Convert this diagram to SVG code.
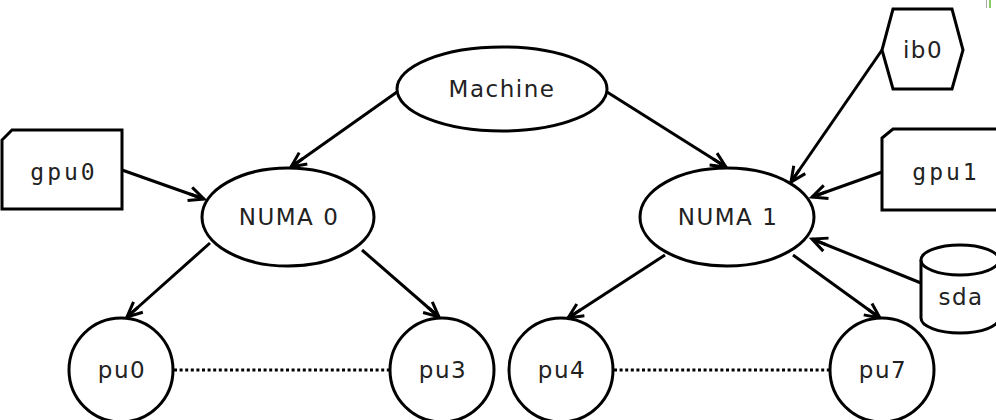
<svg xmlns="http://www.w3.org/2000/svg" width="996" height="420" viewBox="0 0 996 420">
<style>
.shape{fill:#fff;stroke:#000;stroke-width:3}
.lbl{font-family:"DejaVu Sans",sans-serif;font-size:23px;fill:#222;text-anchor:middle;letter-spacing:1.5px}
.mono{font-family:"DejaVu Sans Mono",monospace;font-size:23px;fill:#222;text-anchor:middle;letter-spacing:3px}
.edge{fill:none;stroke:#000;stroke-width:3;marker-end:url(#arr)}
.dot{fill:none;stroke:#000;stroke-width:3;stroke-dasharray:3 2.6}
</style>
<defs>
<marker id="arr" markerUnits="userSpaceOnUse" markerWidth="30" markerHeight="30" viewBox="-20 -15 30 30" refX="0" refY="0" orient="auto">
<path d="M-15,-7 L0,0 L-15,7 M-15,0 L0,0" fill="none" stroke="#000" stroke-width="3"/>
</marker>
</defs>
<rect width="996" height="420" fill="#fff"/>
<rect x="986" y="0" width="1" height="8" fill="#aaa"/>
<rect x="989" y="0" width="2" height="8" fill="#8c6"/>
<g id="connectors">
<line class="edge" x1="397" y1="92" x2="291" y2="167"/>
<line class="edge" x1="607" y1="92" x2="726" y2="167"/>
<line class="edge" x1="122" y1="170" x2="204" y2="199"/>
<line class="edge" x1="882" y1="50" x2="791" y2="182"/>
<line class="edge" x1="882" y1="172" x2="812" y2="197"/>
<line class="edge" x1="921" y1="283" x2="812" y2="239"/>
<line class="edge" x1="210" y1="243" x2="127" y2="317"/>
<line class="edge" x1="362" y1="250" x2="439" y2="317"/>
<line class="edge" x1="665" y1="255" x2="568" y2="318"/>
<line class="edge" x1="793" y1="255" x2="880" y2="318"/>
<line class="dot" x1="174" y1="370" x2="389" y2="370"/>
<line class="dot" x1="614" y1="370" x2="829" y2="370"/>
</g>
<g id="machine"><ellipse class="shape" cx="502" cy="89" rx="105" ry="42"/><text class="lbl" x="502" y="97">Machine</text></g>
<g id="numa0"><ellipse class="shape" cx="288" cy="217" rx="86" ry="49"/><text class="lbl" x="289" y="225">NUMA 0</text></g>
<g id="numa1"><ellipse class="shape" cx="727" cy="217" rx="87" ry="49"/><text class="lbl" x="728" y="225">NUMA 1</text></g>
<g id="gpu0"><path class="shape" d="M12,130 L122,130 L122,209 L2,209 L2,140 Z"/><text class="mono" x="64" y="180">gpu0</text></g>
<g id="gpu1"><path class="shape" d="M893,129 L1003,129 L1003,210 L882,210 L882,138 Z"/><text class="mono" x="946" y="180">gpu1</text></g>
<g id="ib0"><path class="shape" d="M893,9 L952,9 L963,50 L952,89 L893,89 L882,50 Z"/><text class="lbl" x="923" y="58">ib0</text></g>
<g id="sda"><path class="shape" d="M921,260 L921,318 A39,15 0 0 0 999,318 L999,260 A39,15 0 0 0 921,260 Z"/><path class="shape" d="M921,260 A39,15 0 0 0 999,260" fill="none"/><text class="lbl" x="961" y="305">sda</text></g>
<g id="pu0"><circle class="shape" cx="121" cy="370" r="52"/><text class="lbl" x="122" y="378">pu0</text></g>
<g id="pu3"><circle class="shape" cx="442" cy="370" r="52"/><text class="lbl" x="443" y="378">pu3</text></g>
<g id="pu4"><circle class="shape" cx="561" cy="370" r="52"/><text class="lbl" x="562" y="378">pu4</text></g>
<g id="pu7"><circle class="shape" cx="882" cy="370" r="52"/><text class="lbl" x="883" y="378">pu7</text></g>
</svg>
